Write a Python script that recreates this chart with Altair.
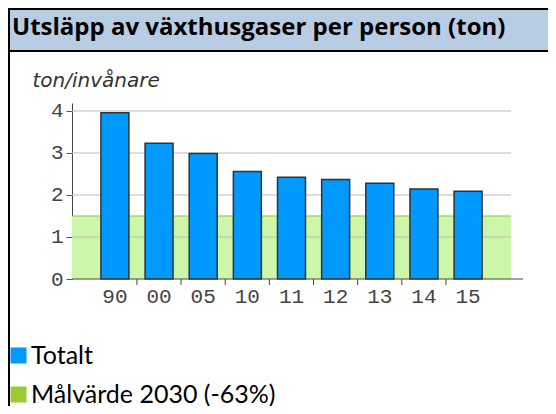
import altair as alt
import pandas as pd

years = ["90", "00", "05", "10", "11", "12", "13", "14", "15"]
values = [3.96, 3.23, 2.99, 2.56, 2.42, 2.37, 2.28, 2.14, 2.09]
target = [1.5]
series_names = ["Totalt", "Målvärde 2030 (-63%)"]
series_colors = ["#0099FF", "#99CC33"]
y_ticks = [0, 1, 2, 3, 4]
title_text = "Utsläpp av växthusgaser per person (ton)"
y_title = "ton/invånare"

W, H = 439, 176

bars_df = pd.DataFrame({"year": years, "value": values, "series": series_names[0]})
grid_df = pd.DataFrame({"v": y_ticks[1:]})
target_df = pd.DataFrame({"t": target})
tick_df = pd.DataFrame({"year": years[:-1]})
one = pd.DataFrame({"a": [0]})

xscale = alt.Scale(domain=years, paddingInner=0.366, paddingOuter=0.655)
yscale = alt.Scale(domain=[0, 4.19], nice=False, zero=True)

x_axis = alt.Axis(title=None, ticks=False, domain=False, labelAngle=0,
                  labelFont="Liberation Mono", labelFontSize=21,
                  labelColor="#444444", labelPadding=6, grid=False)
y_axis = alt.Axis(values=y_ticks, title=y_title, titleAngle=0, titleX=-40, titleY=-17,
                  titleAlign="left", titleBaseline="alphabetic", titleFont="DejaVu Sans",
                  titleFontStyle="italic", titleFontWeight="normal", titleFontSize=20,
                  titleColor="#333333", labelFont="Liberation Mono", labelFontSize=21,
                  labelColor="#444444", labelPadding=3, tickSize=6, tickColor="#555555",
                  domainColor="#444444", grid=False)

base_one = alt.Chart(one)
top_line = base_one.mark_rect(color="black").encode(
    x=alt.value(-64), x2=alt.value(W + 40), y=alt.value(-95), y2=alt.value(-93))
title_band = base_one.mark_rect(color="#B8CCE4").encode(
    x=alt.value(-63), x2=alt.value(W + 40), y=alt.value(-93), y2=alt.value(-52))
mid_line = base_one.mark_rect(color="black").encode(
    x=alt.value(-64), x2=alt.value(W + 40), y=alt.value(-53), y2=alt.value(-51))
left_line = base_one.mark_rect(color="black").encode(
    x=alt.value(-64), x2=alt.value(-62), y=alt.value(-95), y2=alt.value(H + 130))

band = alt.Chart(target_df).mark_rect(color="#CCF7AA").encode(
    x=alt.value(0), x2=alt.value(W),
    y=alt.Y("t:Q", scale=yscale, axis=y_axis), y2=alt.datum(0))
grid = alt.Chart(grid_df).mark_rule(color="#BBBBBB").encode(
    x=alt.value(0), x2=alt.value(W), y=alt.Y("v:Q", scale=yscale, axis=y_axis))
band_line = alt.Chart(target_df).mark_rule(color="#8DC63F").encode(
    x=alt.value(0), x2=alt.value(W), y=alt.Y("t:Q", scale=yscale, axis=y_axis))

bars = alt.Chart(bars_df).mark_bar(stroke="#333333", strokeWidth=1.5).encode(
    x=alt.X("year:N", scale=xscale, sort=years, axis=x_axis),
    y=alt.Y("value:Q", scale=yscale, axis=y_axis),
    color=alt.Color("series:N",
                    scale=alt.Scale(domain=series_names, range=series_colors),
                    legend=alt.Legend(title=None, orient="none", legendX=-70, legendY=240,
                                      symbolType="square", symbolSize=256, symbolOffset=4,
                                      symbolStrokeWidth=0, labelFont="Lato",
                                      labelFontSize=25, labelColor="black",
                                      labelOffset=0, rowPadding=13, padding=0,
                                      direction="vertical", labelLimit=400)),
)

xticks = alt.Chart(tick_df).mark_rule(xOffset=22, color="#444444").encode(
    x=alt.X("year:N", scale=xscale, sort=years, axis=x_axis),
    y=alt.value(H), y2=alt.value(H + 6))
x_line = base_one.mark_rule(color="#444444").encode(
    x=alt.value(0), x2=alt.value(W + 12), y=alt.value(H))

title = base_one.mark_text(text=title_text, font="Open Sans", fontSize=24, fontWeight="bold",
                           align="left", baseline="alphabetic", color="black").encode(
    x=alt.value(-60), y=alt.value(-68))

chart = alt.layer(
    title_band, top_line, mid_line, left_line,
    band, grid, band_line, bars, xticks, x_line, title
).properties(
    width=W, height=H, autosize="none",
    padding={"left": 64, "top": 95, "right": 37, "bottom": 127},
).configure_view(stroke=None)

chart.save("out.html", embed_options={"renderer": "svg", "actions": False})
